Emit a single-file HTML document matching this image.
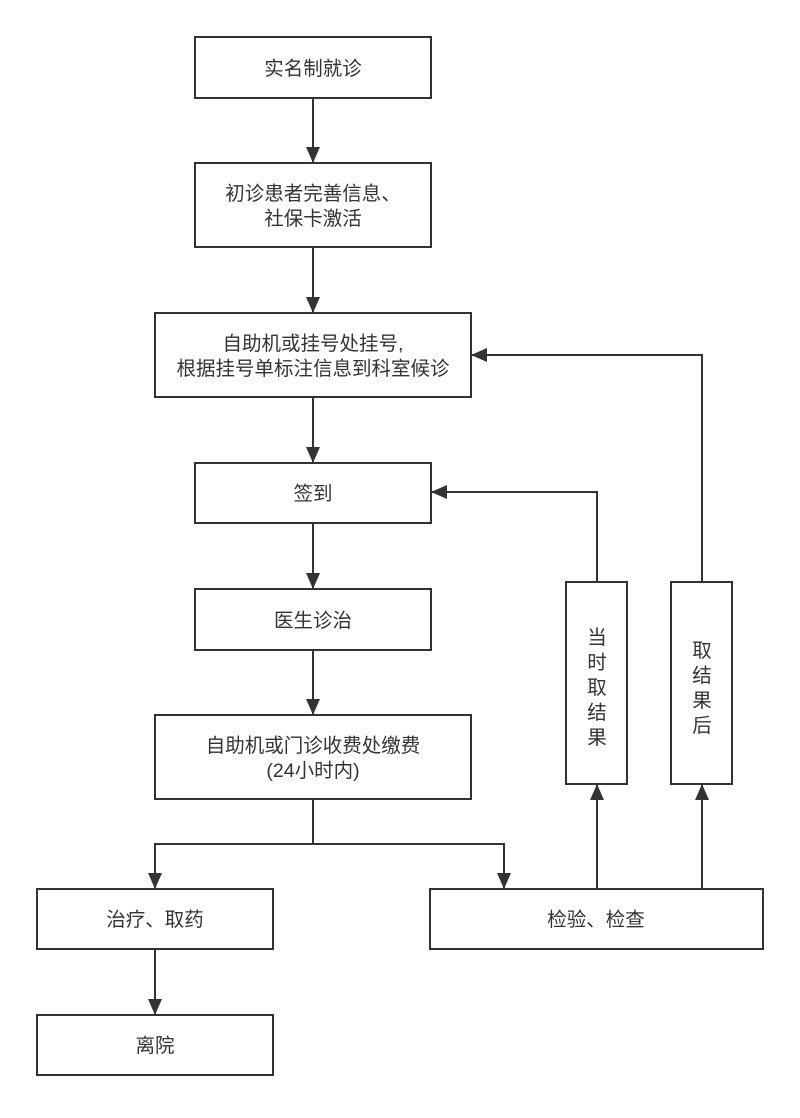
<!DOCTYPE html>
<html><head><meta charset="utf-8"><style>
html,body{margin:0;padding:0;background:#fff;}
svg text{font-family:"Liberation Sans","Noto Sans CJK SC",sans-serif;font-size:19.5px;fill:#333;text-anchor:middle;}
</style></head><body>
<svg width="800" height="1113" viewBox="0 0 800 1113" xmlns="http://www.w3.org/2000/svg">
<defs><marker id="a" markerWidth="16" markerHeight="16" refX="15" refY="7" orient="auto" markerUnits="userSpaceOnUse" viewBox="0 0 16 14"><path d="M0,0 L16,7 L0,14 Z" fill="#333"/></marker></defs>
<g fill="#fff" stroke="#333" stroke-width="2">
<rect x="195" y="37" width="236" height="61"/>
<rect x="195" y="163" width="236" height="84"/>
<rect x="155" y="313" width="316" height="84"/>
<rect x="195" y="463" width="236" height="60"/>
<rect x="195" y="589" width="236" height="61"/>
<rect x="155" y="715" width="316" height="84"/>
<rect x="37" y="889" width="236" height="60"/>
<rect x="37" y="1015" width="236" height="60"/>
<rect x="430" y="889" width="333" height="60"/>
<rect x="566" y="582" width="61" height="202"/>
<rect x="671" y="582" width="61" height="202"/>
</g>
<g fill="none" stroke="#333" stroke-width="2" marker-end="url(#a)">
<path d="M313,98 V162"/>
<path d="M313,247 V312"/>
<path d="M313,397 V462"/>
<path d="M313,523 V588"/>
<path d="M313,650 V714"/>
<path d="M313,799 V844 H155 V888"/>
<path d="M313,844 H504 V888"/>
<path d="M155,949 V1014"/>
<path d="M597,889 V785"/>
<path d="M702,889 V785"/>
<path d="M597,582 V492 H432"/>
<path d="M702,582 V355 H472"/>
</g>
<text x="313" y="75">实名制就诊</text>
<text x="313" y="200">初诊患者完善信息、</text>
<text x="313" y="225">社保卡激活</text>
<text x="313" y="350">自助机或挂号处挂号,</text>
<text x="313" y="375">根据挂号单标注信息到科室候诊</text>
<text x="313" y="500">签到</text>
<text x="313" y="627">医生诊治</text>
<text x="313" y="752">自助机或门诊收费处缴费</text>
<text x="313" y="777">(24小时内)</text>
<text x="155" y="926">治疗、取药</text>
<text x="155" y="1052">离院</text>
<text x="596" y="926">检验、检查</text>
<text x="597" y="644">当</text><text x="597" y="669">时</text><text x="597" y="694">取</text><text x="597" y="719">结</text><text x="597" y="744">果</text>
<text x="702" y="657">取</text><text x="702" y="682">结</text><text x="702" y="707">果</text><text x="702" y="732">后</text>
</svg>
</body></html>
